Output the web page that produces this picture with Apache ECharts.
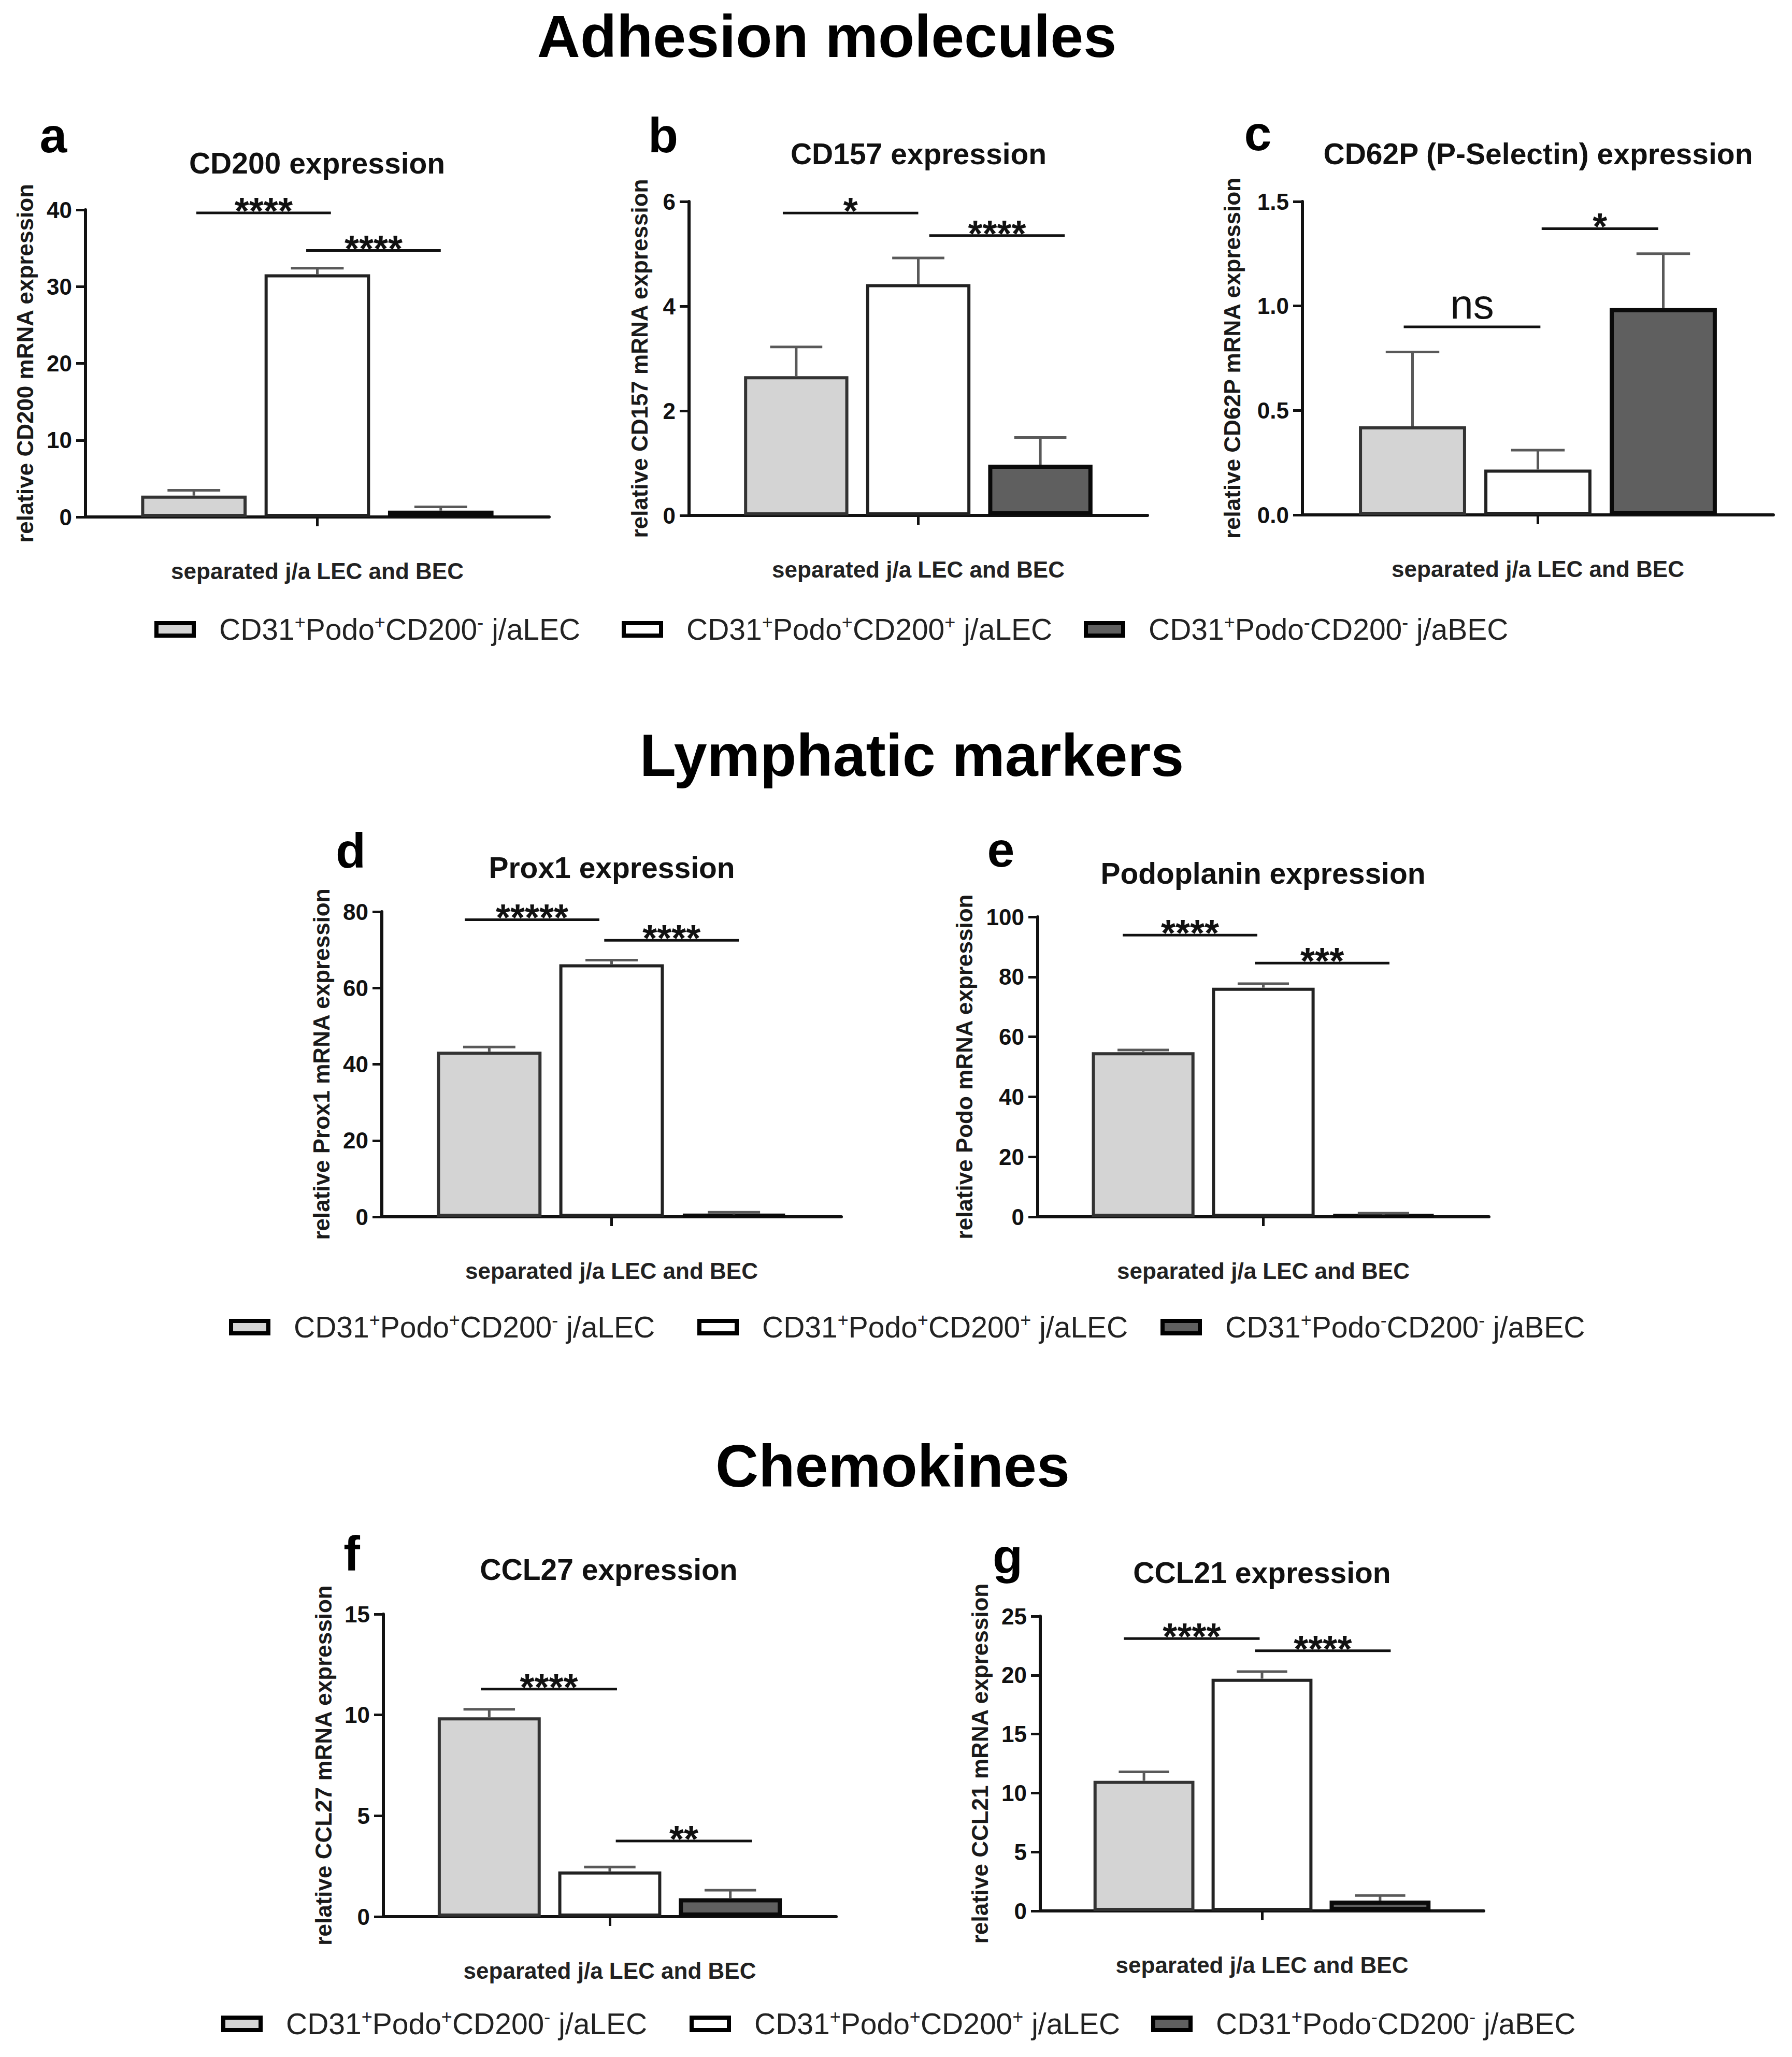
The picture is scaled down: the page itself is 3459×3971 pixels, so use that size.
<!DOCTYPE html>
<html>
<head>
<meta charset="utf-8">
<script src="https://cdn.jsdelivr.net/npm/echarts@6/dist/echarts.min.js"></script>
<style>
html,body{margin:0;padding:0;background:#fff;}
#chart{width:3459px;height:3971px;}
</style>
</head>
<body>
<div id="chart"></div>
<script>
// ---------------- DATA ----------------
const categories = ['separated j/a LEC and BEC'];
const groupNames = ['CD31+Podo+CD200- j/aLEC', 'CD31+Podo+CD200+ j/aLEC', 'CD31+Podo-CD200- j/aBEC'];
const sectionTitles = ['Adhesion molecules', 'Lymphatic markers', 'Chemokines'];
const panelLetters = ['a', 'b', 'c', 'd', 'e', 'f', 'g'];
const panelTitles = ['CD200 expression', 'CD157 expression', 'CD62P (P-Selectin) expression',
  'Prox1 expression', 'Podoplanin expression', 'CCL27 expression', 'CCL21 expression'];
const yAxisNames = ['relative CD200 mRNA expression', 'relative CD157 mRNA expression',
  'relative CD62P mRNA expression', 'relative Prox1 mRNA expression', 'relative Podo mRNA expression',
  'relative CCL27 mRNA expression', 'relative CCL21 mRNA expression'];
const yMax = [40, 6, 1.5, 80, 100, 15, 25];
const yStep = [10, 2, 0.5, 20, 20, 5, 5];

// mean values (order: groupNames) and SEM
const cd200Mean = [2.78, 31.6, 0.82];      const cd200Sem = [0.7, 0.8, 0.5];
const cd157Mean = [2.66, 4.42, 0.97];      const cd157Sem = [0.56, 0.5, 0.52];
const cd62pMean = [0.424, 0.217, 0.99];    const cd62pSem = [0.356, 0.093, 0.26];
const prox1Mean = [43.3, 66.2, 0.6];       const prox1Sem = [1.2, 1.1, 0.6];
const podoMean = [54.9, 76.4, 0.7];        const podoSem = [0.7, 1.3, 0.5];
const ccl27Mean = [9.88, 2.24, 0.91];      const ccl27Sem = [0.4, 0.22, 0.4];
const ccl21Mean = [11.04, 19.7, 0.88];     const ccl21Sem = [0.76, 0.6, 0.43];

// significance brackets: [from bar, to bar, y value, label]
const cd200Sig = [[0.02, 1.11, 39.6, '****'], [0.91, 2.0, 34.7, '****']];
const cd157Sig = [[-0.11, 1.0, 5.78, '*'], [1.09, 2.2, 5.35, '****']];
const cd62pSig = [[-0.07, 1.02, 0.90, 'ns'], [1.03, 1.96, 1.37, '*']];
const prox1Sig = [[-0.2, 0.9, 77.9, '*****'], [0.94, 2.04, 72.5, '****']];
const podoSig = [[-0.17, 0.95, 93.9, '****'], [0.93, 2.05, 84.6, '***']];
const ccl27Sig = [[-0.07, 1.06, 11.28, '****'], [1.05, 2.18, 3.75, '**']];
const ccl21Sig = [[-0.17, 0.98, 23.1, '****'], [0.94, 2.09, 22.07, '****']];

const means = [cd200Mean, cd157Mean, cd62pMean, prox1Mean, podoMean, ccl27Mean, ccl21Mean];
const sems = [cd200Sem, cd157Sem, cd62pSem, prox1Sem, podoSem, ccl27Sem, ccl21Sem];
const sigs = [cd200Sig, cd157Sig, cd62pSig, prox1Sig, podoSig, ccl27Sig, ccl21Sig];

// ---------------- LAYOUT / STYLE ----------------
const FONT = '"Liberation Sans", Arial, Helvetica, sans-serif';
const CAT_GAP = 0.24, BAR_GAP = 0.17;
const layout = [
  {x0: 165, x1: 1060, y0: 405, y1: 998, nameGap: 95, letter: [103, 261], title: [612, 315]},
  {x0: 1330, x1: 2215, y0: 389, y1: 995, nameGap: 74, letter: [1280, 261], title: [1773, 297]},
  {x0: 2514, x1: 3423, y0: 389, y1: 994, nameGap: 114, letter: [2428, 257], title: [2969, 297]},
  {x0: 737, x1: 1624, y0: 1760, y1: 2349, nameGap: 95, letter: [677, 1642], title: [1181, 1675]},
  {x0: 2003, x1: 2874, y0: 1770, y1: 2349, nameGap: 120, letter: [1932, 1640], title: [2438, 1686]},
  {x0: 740, x1: 1614, y0: 3116, y1: 3700, nameGap: 94, letter: [679, 2999], title: [1175, 3030]},
  {x0: 2008, x1: 2864, y0: 3120, y1: 3689, nameGap: 95, letter: [1945, 3004], title: [2436, 3036]}
];
const sectionPos = [[1596, 70], [1760, 1458], [1723, 2830]];
const legendRows = [
  {y: 1215, xs: [294, 1196, 2088]},
  {y: 2562, xs: [438, 1342, 2236]},
  {y: 3907, xs: [423, 1327, 2218]}
];
const fills = ['#d4d4d4', '#ffffff', '#5f5f5f'];
const borders = ['#333333', '#222222', '#0a0a0a'];
const borderW = [6, 6, 8];

const chart = echarts.init(document.getElementById('chart'), null, {renderer: 'svg'});

function barGeom(api) {
  const band = api.size([1, 0])[0];
  const barW = band * (1 - CAT_GAP) / (3 + 2 * BAR_GAP);
  return {barW: barW, pitch: barW * (1 + BAR_GAP)};
}

function errRender(params, api) {
  const mean = api.value(1), top = api.value(2), idx = api.value(3);
  const base = api.coord([0, mean]);
  const tp = api.coord([0, top]);
  const g = barGeom(api);
  const x = base[0] + (idx - 1) * g.pitch;
  const half = g.barW * 0.25;
  const st = {stroke: '#595959', lineWidth: 5};
  return {type: 'group', children: [
    {type: 'line', shape: {x1: x, y1: base[1], x2: x, y2: tp[1]}, style: st},
    {type: 'line', shape: {x1: x - half, y1: tp[1], x2: x + half, y2: tp[1]}, style: st}
  ]};
}

function makeSigRender(list) {
  return function (params, api) {
    const s = list[params.dataIndex];
    const c = api.coord([0, s[2]]);
    const g = barGeom(api);
    const xb1 = c[0] - g.pitch;
    const xa = xb1 + s[0] * g.pitch, xb = xb1 + s[1] * g.pitch;
    const isNs = s[3] === 'ns';
    return {type: 'group', children: [
      {type: 'line', shape: {x1: xa, y1: c[1], x2: xb, y2: c[1]}, style: {stroke: '#111', lineWidth: 5}},
      {type: 'text', x: (xa + xb) / 2, y: c[1] - (isNs ? 44 : 4), style: {
        text: s[3], fontSize: isNs ? 80 : 72, fontWeight: isNs ? 'normal' : 'bold', fontFamily: FONT,
        fill: '#111', align: 'center', verticalAlign: 'middle', textAlign: 'center', textVerticalAlign: 'middle'}}
    ]};
  };
}

const grids = [], xAxes = [], yAxes = [], series = [], graphics = [], legends = [];

layout.forEach(function (L, i) {
  grids.push({left: L.x0, top: L.y0, width: L.x1 - L.x0, height: L.y1 - L.y0, containLabel: false});
  xAxes.push({
    gridIndex: i, type: 'category', data: categories,
    axisLine: {show: true, lineStyle: {color: '#111', width: 6}},
    axisTick: {show: true, alignWithLabel: true, length: 18, lineStyle: {color: '#111', width: 5}},
    axisLabel: {margin: 82, fontSize: 44, fontWeight: 'bold', fontFamily: FONT, color: '#222'},
    splitLine: {show: false}
  });
  yAxes.push({
    gridIndex: i, type: 'value', min: 0, max: yMax[i], interval: yStep[i],
    name: yAxisNames[i], nameLocation: 'middle', nameGap: L.nameGap,
    nameTextStyle: {fontSize: 44, fontWeight: 'bold', fontFamily: FONT, color: '#1a1a1a'},
    axisLine: {show: true, lineStyle: {color: '#111', width: 6}},
    axisTick: {show: true, length: 18, lineStyle: {color: '#111', width: 5}},
    axisLabel: {margin: 26, fontSize: 44, fontWeight: 'bold', fontFamily: FONT, color: '#111',
      formatter: yStep[i] < 1 ? function (v) { return v.toFixed(1); } : null},
    splitLine: {show: false}
  });
  groupNames.forEach(function (gname, k) {
    series.push({
      type: 'bar', name: gname, xAxisIndex: i, yAxisIndex: i,
      data: [means[i][k]], barGap: (BAR_GAP * 100) + '%', barCategoryGap: (CAT_GAP * 100) + '%',
      itemStyle: {color: fills[k], borderColor: borders[k], borderWidth: borderW[k]},
      emphasis: {disabled: true}, silent: true, z: 2
    });
  });
  series.push({
    type: 'custom', name: 'err' + i, xAxisIndex: i, yAxisIndex: i, z: 3, silent: true,
    renderItem: errRender, encode: {x: 0, y: [1, 2]},
    data: means[i].map(function (m, k) { return [0, m, m + sems[i][k], k]; })
  });
  series.push({
    type: 'custom', name: 'sig' + i, xAxisIndex: i, yAxisIndex: i, z: 4, silent: true,
    renderItem: makeSigRender(sigs[i]), encode: {x: 0, y: 1},
    data: sigs[i].map(function (s) { return [0, s[2]]; })
  });
  graphics.push({type: 'text', x: L.letter[0], y: L.letter[1], style: {
    text: panelLetters[i], fontSize: 95, fontWeight: 'bold', fontFamily: FONT, fill: '#000',
    align: 'center', verticalAlign: 'middle', textAlign: 'center', textVerticalAlign: 'middle'}});
  graphics.push({type: 'text', x: L.title[0], y: L.title[1], style: {
    text: panelTitles[i], fontSize: 57, fontWeight: 'bold', fontFamily: FONT, fill: '#111',
    align: 'center', verticalAlign: 'middle', textAlign: 'center', textVerticalAlign: 'middle'}});
});

sectionTitles.forEach(function (t, i) {
  graphics.push({type: 'text', x: sectionPos[i][0], y: sectionPos[i][1], style: {
    text: t, fontSize: 115, fontWeight: 'bold', fontFamily: FONT, fill: '#000',
    align: 'center', verticalAlign: 'middle', textAlign: 'center', textVerticalAlign: 'middle'}});
});

legendRows.forEach(function (row) {
  groupNames.forEach(function (gname, k) {
    legends.push({
      data: [gname], left: row.xs[k] + 4, top: row.y - 32, padding: 0,
      icon: 'rect', itemWidth: 72, itemHeight: 24,
      itemStyle: {borderColor: '#000', borderWidth: 8},
      selectedMode: false,
      formatter: function (name) {
        return '{g| }' + name.replace(/([+-])/g, '{s|$1}');
      },
      textStyle: {fontSize: 57, fontFamily: FONT, color: '#222', lineHeight: 64,
        rich: {g: {width: 44}, s: {fontSize: 36, fontFamily: FONT, color: '#222', lineHeight: 22, verticalAlign: 'top'}}}
    });
  });
});

chart.setOption({
  animation: false,
  backgroundColor: '#ffffff',
  grid: grids, xAxis: xAxes, yAxis: yAxes, series: series,
  legend: legends, graphic: graphics
});
</script>
</body>
</html>
